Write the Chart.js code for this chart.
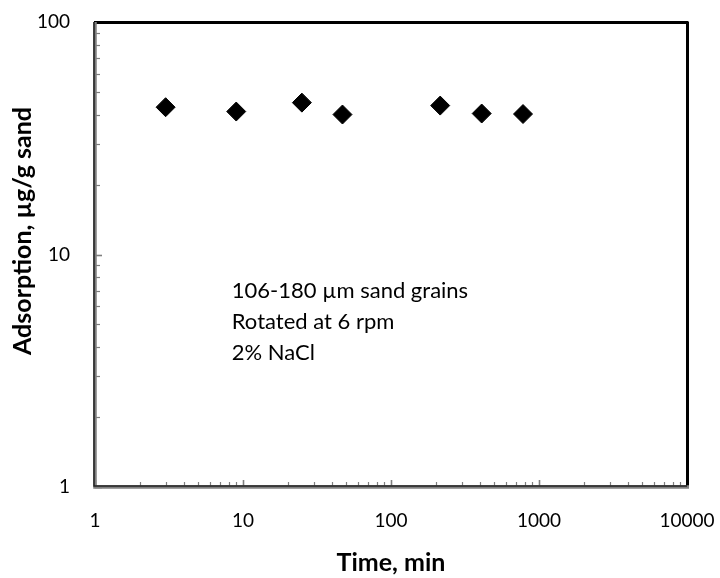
<!DOCTYPE html>
<html>
<head>
<meta charset="utf-8">
<script src="https://cdn.jsdelivr.net/npm/chart.js@4"></script>
<style>
  body { margin: 0; background: #fff; }
  #wrap { width: 720px; height: 578px; }
</style>
</head>
<body>
<div id="wrap"><canvas id="chart" width="720" height="578"></canvas></div>
<script>
// data
const timeMin = [3, 9, 25, 47, 215, 410, 780];
const adsorption = [43, 41.2, 45, 40, 43.7, 40.4, 40.2];

const xMajor = [1, 10, 100, 1000, 10000];
const yMajor = [1, 10, 100];
const notes = ["106-180 µm sand grains", "Rotated at 6 rpm", "2% NaCl"];

const FONT = "Lato, 'Open Sans', sans-serif";

// major ticks plus 2..9 in every decade
function logTicks(majors) {
  const out = [];
  majors.forEach((m, i) => {
    out.push({ value: m, major: true });
    if (i < majors.length - 1) {
      for (let k = 2; k <= 9; k++) out.push({ value: m * k, major: false });
    }
  });
  return out;
}

// ticks inside the plot, frame, note text and y title
const framePlugin = {
  id: "frame",
  afterDraw(chart) {
    const { ctx, chartArea: a, scales } = chart;
    ctx.save();

    // inner ticks
    ctx.strokeStyle = "#7f7f7f";
    scales.x.ticks.forEach(t => {
      const px = Math.round(scales.x.getPixelForValue(t.value)) + 0.5;
      ctx.lineWidth = t.major ? 1.6 : 1.2;
      ctx.beginPath();
      ctx.moveTo(px, a.bottom);
      ctx.lineTo(px, a.bottom - (t.major ? 7 : 5));
      ctx.stroke();
    });
    scales.y.ticks.forEach(t => {
      const py = Math.round(scales.y.getPixelForValue(t.value)) + 0.5;
      ctx.lineWidth = t.major ? 1.6 : 1.2;
      ctx.beginPath();
      ctx.moveTo(a.left, py);
      ctx.lineTo(a.left + (t.major ? 7 : 5), py);
      ctx.stroke();
    });

    // top and right: black
    ctx.strokeStyle = "#000";
    ctx.lineWidth = 3;
    ctx.beginPath();
    ctx.moveTo(a.left - 1, a.top + 0.5);
    ctx.lineTo(a.right + 1.5, a.top + 0.5);
    ctx.moveTo(a.right + 0.5, a.top);
    ctx.lineTo(a.right + 0.5, a.bottom);
    ctx.stroke();

    // left and bottom: grey with dark edge
    ctx.strokeStyle = "#808080";
    ctx.lineWidth = 3.5;
    ctx.beginPath();
    ctx.moveTo(a.left, a.top);
    ctx.lineTo(a.left, a.bottom);
    ctx.lineTo(a.right + 2, a.bottom);
    ctx.stroke();
    ctx.strokeStyle = "#222";
    ctx.lineWidth = 1.5;
    ctx.beginPath();
    ctx.moveTo(a.left - 1, a.top);
    ctx.lineTo(a.left - 1, a.bottom - 1);
    ctx.lineTo(a.right, a.bottom - 1);
    ctx.stroke();

    // note
    ctx.fillStyle = "#000";
    ctx.font = "22px " + FONT;
    ctx.textAlign = "left";
    ctx.textBaseline = "middle";
    const nx = scales.x.getPixelForValue(8.4);
    const ny = scales.y.getPixelForValue(7.0);
    notes.forEach((s, i) => ctx.fillText(s, nx, ny + i * 31));

    // y axis title
    ctx.font = "bold 25px " + FONT;
    ctx.textAlign = "center";
    ctx.translate(23, 231);
    ctx.rotate(-Math.PI / 2);
    ctx.fillText("Adsorption, µg/g sand", 0, 0);
    ctx.restore();
  }
};

new Chart(document.getElementById("chart"), {
  type: "scatter",
  data: {
    datasets: [{
      data: timeMin.map((t, i) => ({ x: t, y: adsorption[i] })),
      pointStyle: "rectRot",
      pointRadius: 9.5,
      pointHoverRadius: 9.5,
      backgroundColor: "#000",
      borderColor: "#000",
      borderWidth: 1
    }]
  },
  options: {
    responsive: false,
    animation: false,
    devicePixelRatio: 1,
    layout: { padding: { left: 0, right: 33, top: 22, bottom: 0 } },
    plugins: { legend: { display: false }, tooltip: { enabled: false } },
    scales: {
      x: {
        type: "logarithmic",
        min: 1,
        max: 10000,
        afterBuildTicks: s => { s.ticks = logTicks(xMajor); },
        afterFit: s => { s.height = 91; s.paddingLeft = 0; s.paddingRight = 0; },
        grid: { display: false, drawTicks: false },
        border: { display: false },
        ticks: {
          autoSkip: false,
          maxRotation: 0,
          padding: 22,
          color: "#000",
          font: { family: FONT, size: 19 },
          callback: (v, i, ticks) => ticks[i].major ? String(v) : ""
        },
        title: {
          display: true,
          text: "Time, min",
          color: "#000",
          font: { family: FONT, size: 25, weight: "bold" },
          padding: { top: 0, bottom: 0 }
        }
      },
      y: {
        type: "logarithmic",
        min: 1,
        max: 100,
        afterBuildTicks: s => { s.ticks = logTicks(yMajor); },
        afterFit: s => { s.width = 95; s.paddingTop = 0; s.paddingBottom = 0; },
        grid: { display: false, drawTicks: false },
        border: { display: false },
        ticks: {
          autoSkip: false,
          padding: 25,
          color: "#000",
          font: { family: FONT, size: 19 },
          callback: (v, i, ticks) => ticks[i].major ? String(v) : ""
        }
      }
    }
  },
  plugins: [framePlugin]
});
</script>
</body>
</html>
